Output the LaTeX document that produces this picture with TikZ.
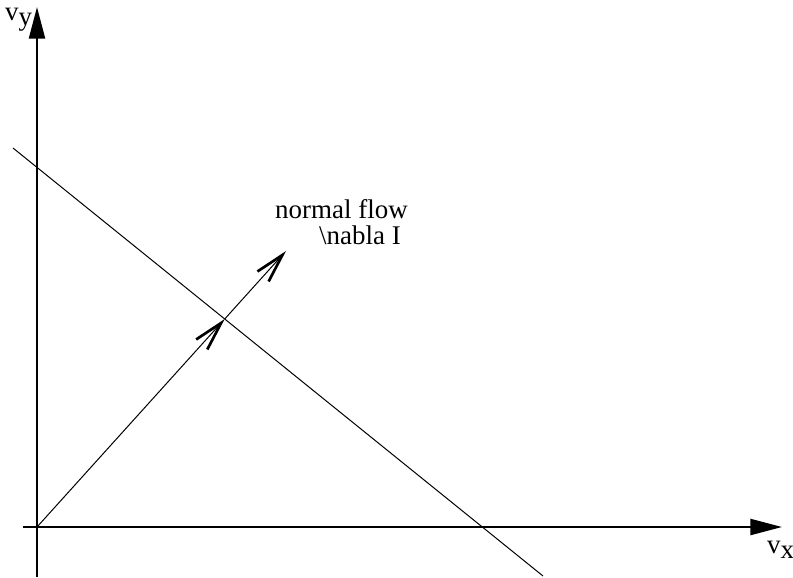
\documentclass[tikz,border=0pt]{standalone}
\usepackage{fontspec}
\setmainfont{Liberation Serif}
\usetikzlibrary{arrows.meta,calc}
\tikzset{
  axis/.style={
    line width = 0.07cm,
    -{Triangle[length=0.95cm,width=0.48cm]}
  },
  flow/.style={
    line width = 0.03cm,
    -{Straight Barb[length=0.87cm,width=0.45cm,line width=0.08cm]}
  },
  cstr/.style={
    line width = 0.03cm
  },
  lbl/.style={
    inner sep = 0pt,
    anchor = base west,
    font = \fontsize{23}{27}\selectfont
  },
}
\newcommand{\subx}[1]{\raisebox{-0.45ex}{#1}}
\begin{document}
\begin{tikzpicture}[x=0.03cm,y=-0.03cm]
\useasboundingbox (0,0) rectangle (793,577);
% axes
\coordinate (o) at (37,527);
\coordinate (ybot) at (37,577);
\coordinate (ytop) at (37,7);
\coordinate (xleft) at (23,527);
\coordinate (xright) at (782,527);
\draw[axis] (ybot) -- (ytop);
\draw[axis] (xleft) -- (xright);
\node[lbl] (vy) at (5,20) {v\subx{y}};
\node[lbl] (vx) at (767,553) {v\subx{x}};
% constraint line
\coordinate (ca) at (13,148);
\coordinate (cb) at (543,576);
\draw[cstr] (ca) -- (cb);
% normal flow
\coordinate (tip) at (286,251);
\coordinate (cross) at (intersection of o--tip and ca--cb);
\draw[flow] (o) -- (cross);
\draw[flow] (cross) -- (tip);
\node[lbl] (nf) at (275,218) {normal flow};
\node[lbl] (gr) at (319,244) {\textbackslash nabla I};
\end{tikzpicture}
\end{document}
